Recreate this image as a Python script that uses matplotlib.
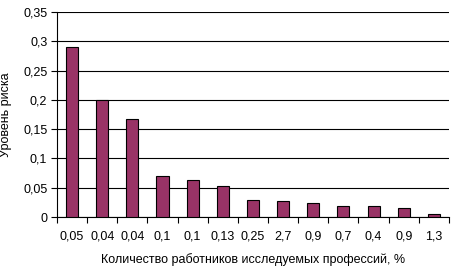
import numpy as np
import matplotlib
matplotlib.use("Agg")
import matplotlib.pyplot as plt
from matplotlib.ticker import FixedLocator, FixedFormatter

plt.rcParams['font.family'] = ['Liberation Sans', 'DejaVu Sans']

# data
categories = ['0,05', '0,04', '0,04', '0,1', '0,1', '0,13', '0,25',
              '2,7', '0,9', '0,7', '0,4', '0,9', '1,3']
risk = [0.29, 0.20, 0.167, 0.07, 0.063, 0.053, 0.029,
        0.027, 0.024, 0.019, 0.019, 0.015, 0.005]
yticks = [0, 0.05, 0.1, 0.15, 0.2, 0.25, 0.3, 0.35]
ylabels = ['0', '0,05', '0,1', '0,15', '0,2', '0,25', '0,3', '0,35']

fig = plt.figure(figsize=(4.51, 2.69), dpi=100)
ax = fig.add_axes([0.1264, 0.1933, 0.869, 0.762])

x = np.arange(len(categories))
ax.bar(x, risk, width=0.4, color='#993366', edgecolor='black', linewidth=0.8, zorder=3)

ax.set_xlim(-0.5, len(categories) - 0.5)
ax.set_ylim(0, 0.35)

ax.set_yticks(yticks)
ax.set_yticklabels(ylabels, fontsize=9)
ax.yaxis.grid(True, color='black', linewidth=0.8)
ax.set_axisbelow(True)

# ticks between categories, labels at centers
ax.xaxis.set_major_locator(FixedLocator(np.arange(-0.5, len(categories), 1.0)))
ax.xaxis.set_major_formatter(FixedFormatter([''] * (len(categories) + 1)))
ax.xaxis.set_minor_locator(FixedLocator(x))
ax.xaxis.set_minor_formatter(FixedFormatter(categories))
ax.tick_params(axis='x', which='minor', length=0, labelsize=9, pad=10)
ax.tick_params(axis='x', which='major', length=4, width=0.8, direction='out')
ax.tick_params(axis='y', length=4, width=0.8, pad=3)

for s in ['top', 'right']:
    ax.spines[s].set_visible(False)
ax.spines['left'].set_linewidth(0.8)
ax.spines['bottom'].set_linewidth(0.8)

ax.set_xlabel('Количество работников исследуемых профессий, %', fontsize=9, labelpad=7)
ax.set_ylabel('Уровень риска', fontsize=9, labelpad=8)

fig.savefig('out.png', dpi=100)
